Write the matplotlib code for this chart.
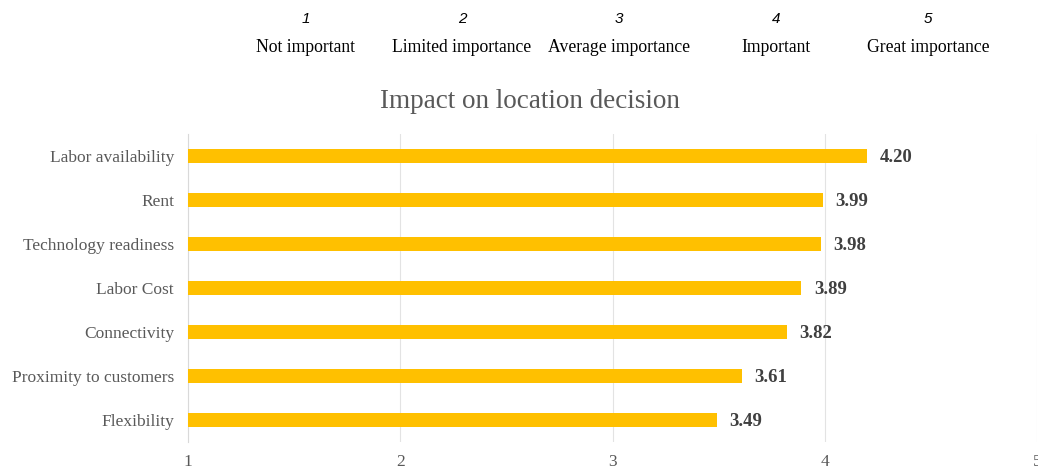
import matplotlib.pyplot as plt

# survey data
factors = ["Labor availability", "Rent", "Technology readiness", "Labor Cost",
           "Connectivity", "Proximity to customers", "Flexibility"]
scores = [4.20, 3.99, 3.98, 3.89, 3.82, 3.61, 3.49]

scale_nums = ["1", "2", "3", "4", "5"]
scale_names = ["Not important", "Limited importance", "Average importance",
               "Important", "Great importance"]
scale_x = [306, 462, 619, 776, 928]  # header positions in pixels

W, H = 1038, 471
fig = plt.figure(figsize=(W / 100, H / 100), dpi=100)

# header legend for the rating scale
for num, name, px in zip(scale_nums, scale_names, scale_x):
    fig.text(px / W, 1 - 19 / H, num, ha="center", va="center",
             family="Liberation Sans", style="italic", fontsize=11, color="#000000")
    fig.text(px / W, 1 - 47 / H, name, ha="center", va="center",
             family="Liberation Serif", fontsize=12.7, color="#000000")

fig.text(530 / W, 1 - 102 / H, "Impact on location decision", ha="center", va="center",
         family="Liberation Serif", fontsize=19.5, color="#595959")

left, right, top, bottom = 188, 1037, 134, 442
ax = fig.add_axes([left / W, 1 - bottom / H, (right - left) / W, (bottom - top) / H])

ypos = list(range(len(factors)))[::-1]
ax.barh(ypos, [s - 1 for s in scores], left=1, height=0.32, color="#FFC000", zorder=3)

for y, s in zip(ypos, scores):
    ax.text(s + 0.06, y - 0.04, f"{s:.2f}", va="center", ha="left",
            family="Liberation Serif", fontweight="bold", fontsize=13.5, color="#404040")

ax.set_xlim(1, 5)
ax.set_ylim(-0.5, len(factors) - 0.5)
ax.set_xticks([1, 2, 3, 4, 5])
ax.set_yticks(ypos)
ax.set_yticklabels(factors)
ax.grid(axis="x", color="#e3e3e3", linewidth=0.8, zorder=0)
for side in ["top", "right", "bottom"]:
    ax.spines[side].set_visible(False)
ax.spines["left"].set_color("#d9d9d9")
ax.tick_params(axis="both", length=0, colors="#595959", labelsize=12.5)
ax.tick_params(axis="x", pad=9)
ax.tick_params(axis="y", pad=10)
for lbl in ax.get_xticklabels() + ax.get_yticklabels():
    lbl.set_family("Liberation Serif")

fig.savefig("out.png", dpi=100)
